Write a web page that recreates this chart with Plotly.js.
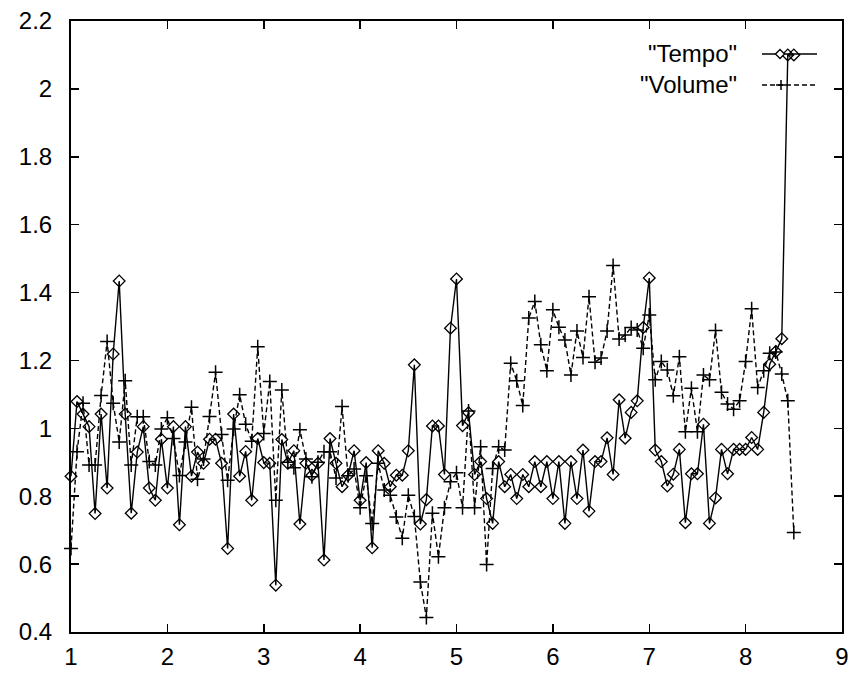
<!DOCTYPE html>
<html>
<head>
<meta charset="utf-8">
<script src="https://cdn.plot.ly/plotly-3.0.1.min.js"></script>
<style>
html,body{margin:0;padding:0;background:#fff;}
#chart{width:853px;height:673px;}
</style>
</head>
<body>
<div id="chart"></div>
<script>
// Measure positions (x) shared by both series
var xPos = [
  1,1.0625,1.125,1.1875,1.25,1.3125,1.375,1.4375,1.5,1.5625,1.625,1.6875,1.75,1.8125,1.875,1.9375,
  2,2.0625,2.125,2.1875,2.25,2.3125,2.375,2.4375,2.5,2.5625,2.625,2.6875,2.75,2.8125,2.875,2.9375,
  3,3.0625,3.125,3.1875,3.25,3.3125,3.375,3.4375,3.5,3.5625,3.625,3.6875,3.75,3.8125,3.875,3.9375,
  4,4.0625,4.125,4.1875,4.25,4.3125,4.375,4.4375,4.5,4.5625,4.625,4.6875,4.75,4.8125,4.875,4.9375,
  5,5.0625,5.125,5.1875,5.25,5.3125,5.375,5.4375,5.5,5.5625,5.625,5.6875,5.75,5.8125,5.875,5.9375,
  6,6.0625,6.125,6.1875,6.25,6.3125,6.375,6.4375,6.5,6.5625,6.625,6.6875,6.75,6.8125,6.875,6.9375,
  7,7.0625,7.125,7.1875,7.25,7.3125,7.375,7.4375,7.5,7.5625,7.625,7.6875,7.75,7.8125,7.875,7.9375,
  8,8.0625,8.125,8.1875,8.25,8.3125,8.375,8.4375,8.5
];

var tempo = [
  0.859,1.079,1.042,1.005,0.749,1.042,0.824,1.219,1.434,1.042,0.750,0.930,1.005,0.824,0.788,0.968,
  0.824,1.005,0.716,1.005,0.859,0.930,0.897,0.968,0.968,0.897,0.646,1.042,0.859,0.932,0.788,0.970,
  0.899,0.897,0.538,0.967,0.897,0.934,0.718,0.897,0.862,0.897,0.612,0.970,0.897,0.828,0.862,0.934,
  0.788,0.899,0.648,0.934,0.897,0.828,0.862,0.862,0.934,1.187,0.718,0.790,1.007,1.007,0.864,1.295,
  1.440,1.008,1.046,0.864,0.902,0.793,0.720,0.902,0.828,0.864,0.793,0.864,0.828,0.902,0.828,0.902,
  0.793,0.902,0.720,0.902,0.793,0.936,0.756,0.902,0.902,0.972,0.864,1.084,0.971,1.047,1.081,1.297,
  1.443,0.936,0.902,0.830,0.865,0.938,0.722,0.866,0.866,1.012,0.720,0.795,0.938,0.866,0.938,0.938,
  0.938,0.973,0.938,1.047,1.189,1.226,1.264,2.100,2.100
];

var volume = [
  0.646,0.931,1.074,0.892,0.892,1.097,1.256,1.074,0.960,1.140,0.892,1.034,1.034,0.902,0.892,0.998,
  1.031,0.970,0.861,0.960,1.062,0.850,0.910,1.035,1.165,0.982,0.847,0.998,1.099,1.012,0.962,1.240,
  0.985,1.138,0.788,1.113,0.900,0.884,0.996,0.910,0.857,0.900,0.931,0.931,0.854,1.064,0.860,0.880,
  0.766,0.860,0.720,0.897,0.818,0.803,0.739,0.676,0.803,0.740,0.547,0.443,0.750,0.622,0.766,0.843,
  0.869,0.766,1.051,0.766,0.946,0.599,0.882,0.946,0.936,1.192,1.140,1.067,1.325,1.374,1.246,1.170,
  1.349,1.298,1.260,1.157,1.287,1.209,1.388,1.195,1.207,1.287,1.480,1.263,1.275,1.297,1.290,1.236,
  1.334,1.143,1.197,1.172,1.096,1.211,0.990,1.118,0.990,1.157,1.143,1.288,1.106,1.072,1.056,1.081,
  1.197,1.352,1.120,1.170,1.221,1.225,1.160,1.081,0.693
];

var seriesNames = ['"Tempo"', '"Volume"'];
var xTicks = [1,2,3,4,5,6,7,8,9];
var yTicks = [0.4,0.6,0.8,1,1.2,1.4,1.6,1.8,2,2.2];

var FONT = 'Liberation Sans, Arial, Helvetica, sans-serif';

var traces = [
  {
    x: xPos, y: tempo, name: seriesNames[0], type: 'scatter', mode: 'lines+markers',
    line: {color: '#000', width: 1.4},
    marker: {symbol: 'diamond-open', size: 9, color: '#000', line: {width: 1.3, color: '#000'}},
    cliponaxis: false
  },
  {
    x: xPos, y: volume, name: seriesNames[1], type: 'scatter', mode: 'lines+markers',
    line: {color: '#000', width: 1.4, dash: '5px,3px'},
    marker: {symbol: 'cross-thin-open', size: 10, color: '#000', line: {width: 1.5, color: '#000'}},
    cliponaxis: false
  }
];

// legend drawn gnuplot-style: text right-aligned, sample line to its right
var L = 71, W = 771, T = 21, H = 611;
function px2x(p){ return (p - L) / W; }
function py2y(p){ return (T + H - p) / H; }
var legRows = [54, 85];
var shapes = [
  {type:'line', xref:'paper', yref:'paper', x0:px2x(762), x1:px2x(817), y0:py2y(legRows[0]), y1:py2y(legRows[0]),
   line:{color:'#000', width:1.4}},
  {type:'line', xref:'paper', yref:'paper', x0:px2x(762), x1:px2x(817), y0:py2y(legRows[1]), y1:py2y(legRows[1]),
   line:{color:'#000', width:1.4, dash:'5px,3px'}},
  {type:'path', xref:'paper', yref:'paper', xsizemode:'pixel', ysizemode:'pixel',
   xanchor:px2x(780), yanchor:py2y(legRows[0]),
   path:'M -4.5 0 L 0 4.5 L 4.5 0 L 0 -4.5 Z', fillcolor:'#fff', line:{color:'#000', width:1.3}},
  {type:'path', xref:'paper', yref:'paper', xsizemode:'pixel', ysizemode:'pixel',
   xanchor:px2x(781), yanchor:py2y(legRows[1]),
   path:'M -5 0 L 5 0 M 0 -5 L 0 5', line:{color:'#000', width:1.5}}
];
var annotations = [
  {text: seriesNames[0], xref:'paper', yref:'paper', x:px2x(739), y:py2y(legRows[0]), xanchor:'right', yanchor:'middle',
   showarrow:false, font:{family:FONT, size:24, color:'#000'}},
  {text: seriesNames[1], xref:'paper', yref:'paper', x:px2x(739), y:py2y(legRows[1]), xanchor:'right', yanchor:'middle',
   showarrow:false, font:{family:FONT, size:24, color:'#000'}}
];

var layout = {
  width: 853, height: 673,
  margin: {l: L, r: 853 - L - W, t: T, b: 673 - T - H, pad: 0},
  paper_bgcolor: '#fff', plot_bgcolor: '#fff',
  showlegend: false,
  font: {family: FONT, size: 24, color: '#000'},
  xaxis: {
    range: [1, 9], tickvals: xTicks, ticktext: xTicks.map(String),
    showgrid: false, zeroline: false,
    showline: true, linecolor: '#000', linewidth: 2, mirror: 'ticks',
    ticks: 'inside', ticklen: 8, tickwidth: 1.5, tickcolor: '#000',
    ticklabelstandoff: 2,
    tickfont: {family: FONT, size: 24, color: '#000'}
  },
  yaxis: {
    range: [0.4, 2.2], tickvals: yTicks, ticktext: yTicks.map(String),
    showgrid: false, zeroline: false,
    showline: true, linecolor: '#000', linewidth: 2, mirror: 'ticks',
    ticks: 'inside', ticklen: 8, tickwidth: 1.5, tickcolor: '#000',
    ticklabelstandoff: 12,
    tickfont: {family: FONT, size: 24, color: '#000'}
  },
  shapes: shapes,
  annotations: annotations
};

Plotly.newPlot('chart', traces, layout, {displayModeBar: false, staticPlot: true});
</script>
</body>
</html>
